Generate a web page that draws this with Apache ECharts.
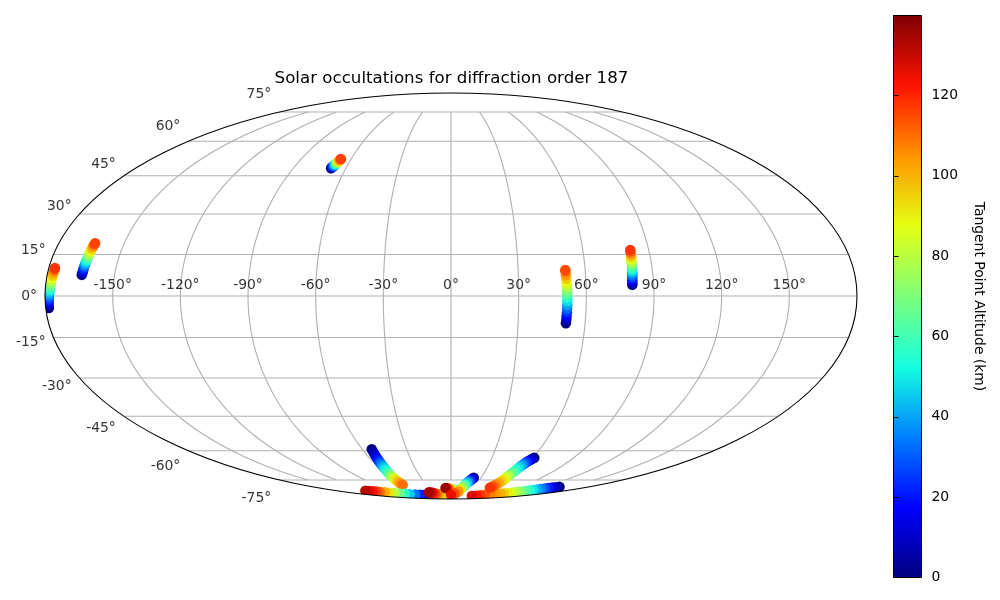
<!DOCTYPE html>
<html><head><meta charset="utf-8">
<style>html,body{margin:0;padding:0;background:#fff}#c{width:1000px;height:600px}</style>
<script src="https://cdn.jsdelivr.net/npm/echarts@6/dist/echarts.min.js"></script>
</head><body><div id="c"></div>
<script>
const titleText = 'Solar occultations for diffraction order 187';
const colorbarName = 'Tangent Point Altitude (km)';
const lonTicks = [-150,-120,-90,-60,-30,0,30,60,90,120,150];
const latTicks = [-75,-60,-45,-30,-15,0,15,30,45,60,75];
const altTicks = [0,20,40,60,80,100,120];
const altMax = 139.9;
const jetColors = ['#00007f','#0000ff','#0080ff','#15ffe1','#7cff79','#e4ff13','#ff9400','#ff1300','#7f0000'];

const a16 = [0,8,16,24,32,40,48,56,64,72,80,88,96,104,112];
const trackA_alt = [...a16,118];
const trackA_lon = [-178.6,-178.6,-178.5,-178.4,-178.3,-178.2,-178.1,-178,-177.9,-177.8,-177.7,-177.6,-177.5,-177.4,-177.3,-177.3];
const trackA_lat = [-4.3,-3.3,-2.3,-1.4,-0.4,0.6,1.6,2.5,3.5,4.5,5.5,6.4,7.4,8.4,9.4,10.1];
const trackB_alt = [...a16,116];
const trackB_lon = [-164.6,-164.5,-164.4,-164.4,-164.3,-164.2,-164.2,-164.1,-164,-163.9,-163.9,-163.8,-163.7,-163.6,-163.5,-163.4];
const trackB_lat = [7.6,8.3,9.1,9.9,10.7,11.5,12.3,13.1,13.9,14.7,15.5,16.3,17.1,17.9,18.6,19.1];
const trackC_alt = [0,12,24,36,48,60,72,84,96,108,116];
const trackC_lon = [-68.4,-68.2,-67.9,-67.7,-67.4,-67.2,-67,-66.8,-66.5,-66.3,-66.1];
const trackC_lat = [48.1,48.5,48.9,49.3,49.7,50.1,50.5,50.9,51.3,51.7,52.05];
const trackD_alt = [...a16,115];
const trackD_lon = [51.4,51.5,51.5,51.6,51.6,51.6,51.6,51.6,51.5,51.5,51.5,51.4,51.3,51.2,51.1,51.1];
const trackD_lat = [-9.8,-8.5,-7.2,-5.8,-4.5,-3.2,-1.8,-0.5,0.8,2.2,3.5,4.8,6.2,7.5,8.9,9.4];
const trackE_alt = [...a16,118];
const trackE_lon = [80.5,80.6,80.6,80.7,80.8,80.9,81,81,81.1,81.2,81.2,81.3,81.4,81.5,81.5,81.6];
const trackE_lat = [4,4.8,5.7,6.5,7.4,8.2,9.1,9.9,10.8,11.7,12.5,13.4,14.2,15.1,15.9,16.6];
const trackF_alt = [0,5,10,15,20,25,30,35,40,45,50,55,60,65,70,75,80,85,90,95,100,105,110];
const trackF_lon = [-53.6,-53.9,-54.2,-54.5,-54.7,-54.9,-55.1,-55.2,-55.4,-55.6,-55.9,-56.2,-56.5,-56.9,-57.1,-57.3,-57.5,-57.6,-57.8,-58,-58.2,-58.5,-58.7];
const trackF_lat = [-59.3,-60.7,-62.1,-63.5,-64.4,-65.2,-66,-66.8,-67.6,-68.4,-69.3,-70.2,-71.1,-72,-72.6,-73.2,-73.8,-74.4,-75,-75.8,-76.5,-77.3,-78.1];
const trackG_alt = [0,5,13,22,33,45,56,68,80,92,101,110,116,122,127,132];
const trackG_lon = [-50,-53.7,-61,-67.9,-76,-84.1,-91,-97.9,-104,-110.4,-115.5,-120.7,-123,-125.7,-130,-134.7];
const trackG_lat = [-85.7,-85.6,-85.4,-85.2,-84.9,-84.6,-84.3,-84,-83.7,-83.4,-83.15,-82.9,-82.6,-82.3,-82.15,-82];
const trackH_alt = [40,50,60,69,78,86,95,102,110,117,125,130,135];
const trackH_lon = [5.2,0,-4.9,-9.5,-13.9,-17.8,-21.5,-25,-28.2,-30.6,-33,-35.6,-38.2];
const trackH_lat = [-86.2,-86.1,-85.95,-85.7,-85.5,-85.25,-85,-84.7,-84.4,-83.95,-83.5,-83.3,-83.1];
const trackI_alt = [20,35,50,65,80,92,105,120,136];
const trackI_lon = [11.2,8.6,6,3.7,1.4,-0.7,-2.8,-5,-7.5];
const trackI_lat = [-82.2,-81.8,-81.44,-81.1,-80.8,-80.6,-80.45,-80.25,-80.1];
const trackK_alt = [0,7,14,21,28,35,41,48,55,61,68,74,80,85,90,95,100,104,108,113,118,123,128];
const trackK_lon = [141.3,138.7,136.1,133.6,131,128.7,126.6,124.4,122.2,119.5,116.4,113.7,111,107.5,104,100.5,96.8,90.5,84,76.2,68.6,61,53.5];
const trackK_lat = [-79.3,-79.55,-79.8,-80.1,-80.4,-80.75,-81.1,-81.45,-81.8,-82.1,-82.45,-82.8,-83.1,-83.4,-83.7,-84,-84.25,-84.6,-84.95,-85.35,-85.65,-85.9,-86.2];
const trackL_alt = [0,6,12,18,24,30,36,42,48,54,60,65,70,75,80,85,90,95,100,105,110,114,118];
const trackL_lon = [61.1,60.3,59.6,58.8,58.2,57.7,57.2,56.7,56.3,56,55.6,55.3,55.2,55.1,55,55,54.9,54.7,54.4,54.2,53.6,53.1,52.6];
const trackL_lat = [-63.3,-63.8,-64.4,-64.9,-65.5,-66.2,-66.8,-67.4,-68.3,-69.3,-70.3,-71.2,-72,-72.8,-73.5,-74.2,-75,-75.9,-76.7,-77.6,-78.5,-79.2,-79.9];
const trackJ_alt = [0,5,15,25,35,45,55,62,70,80,90,97,105,115,125];
const trackJ_lon = [22.6,22.2,21.2,20.2,19.2,18.2,17.2,16.5,15.7,14.6,13.5,12.7,11.9,6.9,0];
const trackJ_lat = [-73.7,-74,-74.7,-75.4,-76.1,-76.8,-77.9,-78.6,-79.45,-80.45,-81.44,-82.1,-82.9,-84.1,-85.35];

const tracks = [
  [trackA_lon,trackA_lat,trackA_alt],[trackB_lon,trackB_lat,trackB_alt],[trackC_lon,trackC_lat,trackC_alt],
  [trackD_lon,trackD_lat,trackD_alt],[trackE_lon,trackE_lat,trackE_alt],[trackF_lon,trackF_lat,trackF_alt],
  [trackG_lon,trackG_lat,trackG_alt],[trackH_lon,trackH_lat,trackH_alt],[trackI_lon,trackI_lat,trackI_alt],
  [trackK_lon,trackK_lat,trackK_alt],[trackL_lon,trackL_lat,trackL_alt],[trackJ_lon,trackJ_lat,trackJ_alt]
];
const points = [];
tracks.forEach(t => t[0].forEach((lon,i) => points.push([lon,t[1][i],t[2][i]])));

// Mollweide projection
function auxTheta(latDeg){
  const phi = latDeg*Math.PI/180;
  if (Math.abs(Math.abs(latDeg)-90) < 1e-9) return Math.sign(latDeg)*Math.PI/2;
  let th = phi;
  for (let i=0;i<60;i++){
    const d = (2*th+Math.sin(2*th)-Math.PI*Math.sin(phi))/(2+2*Math.cos(2*th));
    th -= d;
    if (Math.abs(d)<1e-10) break;
  }
  return th;
}
const mollweide = {
  project: p => { const th = auxTheta(p[1]); return [2*p[0]/180*Math.cos(th), -Math.sin(th)]; },
  unproject: q => {
    const th = Math.asin(-q[1]);
    return [q[0]/2/Math.cos(th)*180, Math.asin((2*th+Math.sin(2*th))/Math.PI)*180/Math.PI];
  }
};

const ring = [];
for (let la=-90; la<=90; la+=1) ring.push([-180,la]);
for (let la=90; la>=-90; la-=1) ring.push([180,la]);
echarts.registerMap('globe',{type:'FeatureCollection',features:[{type:'Feature',properties:{name:'globe'},
  geometry:{type:'Polygon',coordinates:[ring]}}]});

const gridLines = [];
lonTicks.forEach(lon => { const c=[]; for(let la=-75;la<=75;la+=2.5) c.push([lon,la]); gridLines.push({coords:c}); });
latTicks.forEach(lat => gridLines.push({coords:[[-180,lat],[180,lat]]}));

const CX=451, CY=296, RX=406, RY=203;
const latLabelData = latTicks.map(lat => ({
  value:[-180,lat], name:lat+'°',
  label:{offset:[0, -0.1*RY*Math.sin(auxTheta(lat))+0.5]}
}));
const lonLabelData = lonTicks.map(lon => ({value:[lon,0], name:lon+'°'}));
const FONT='"DejaVu Sans"';

const chart = echarts.init(document.getElementById('c'),null,{renderer:'canvas'});
chart.setOption({
  animation:false,
  backgroundColor:'#fff',
  title:{text:titleText,left:446.5,top:65.5,textAlign:'center',
    textStyle:{fontFamily:FONT,fontSize:16.67,fontWeight:'normal',color:'#000'}},
  geo:{map:'globe',projection:mollweide,roam:false,silent:true,
    layoutCenter:[CX,CY],layoutSize:RX*2,
    itemStyle:{areaColor:'#fff',borderColor:'#fff',borderWidth:0},
    label:{show:false},emphasis:{disabled:true}},
  grid:{left:893.5,top:15.5,width:28,height:562,show:true,backgroundColor:'transparent',
    borderColor:'#000',borderWidth:1,z:10},
  xAxis:{type:'value',show:false,min:0,max:1},
  yAxis:{type:'value',position:'right',min:0,max:altMax,interval:20,z:10,
    splitLine:{show:false},
    axisLine:{show:true,lineStyle:{color:'#000',width:1}},
    axisTick:{show:true,length:5,lineStyle:{color:'#000',width:1},customValues:altTicks},
    axisLabel:{show:true,color:'#000',fontFamily:FONT,fontSize:13.9,margin:10,customValues:altTicks},
    name:colorbarName,nameLocation:'middle',nameRotate:-90,nameGap:50,
    nameTextStyle:{color:'#000',fontFamily:FONT,fontSize:13.9}},
  visualMap:{type:'continuous',seriesIndex:1,dimension:2,min:0,max:altMax,
    left:893.5,top:15.5,itemWidth:28,itemHeight:562,padding:0,calculable:false,hoverLink:false,
    text:null,showLabel:false,inRange:{color:jetColors},z:4},
  graphic:[
    {type:'ellipse',silent:true,z:3,shape:{cx:CX,cy:CY,rx:RX+5,ry:RY+5},style:{fill:'none',stroke:'#fff',lineWidth:10}},
    {type:'ellipse',silent:true,z:3,shape:{cx:CX,cy:CY,rx:RX,ry:RY},style:{fill:'none',stroke:'#000',lineWidth:1.1}}
  ],
  series:[
    {type:'lines',coordinateSystem:'geo',polyline:true,silent:true,z:1,data:gridLines,
      lineStyle:{color:'#b0b0b0',width:1.1,opacity:1}},
    {type:'scatter',coordinateSystem:'geo',silent:true,z:2,symbol:'circle',symbolSize:10.5,
      data:points,itemStyle:{opacity:1}},
    {type:'scatter',coordinateSystem:'geo',silent:true,z:6,symbolSize:0,data:lonLabelData,
      label:{show:true,position:'top',distance:4,formatter:'{b}',color:'#000',fontFamily:FONT,fontSize:13.9}},
    {type:'scatter',coordinateSystem:'geo',silent:true,z:6,symbolSize:0,data:latLabelData,
      label:{show:true,position:'left',distance:8,formatter:'{b}',color:'#000',fontFamily:FONT,fontSize:13.9}}
  ]
});
</script></body></html>
